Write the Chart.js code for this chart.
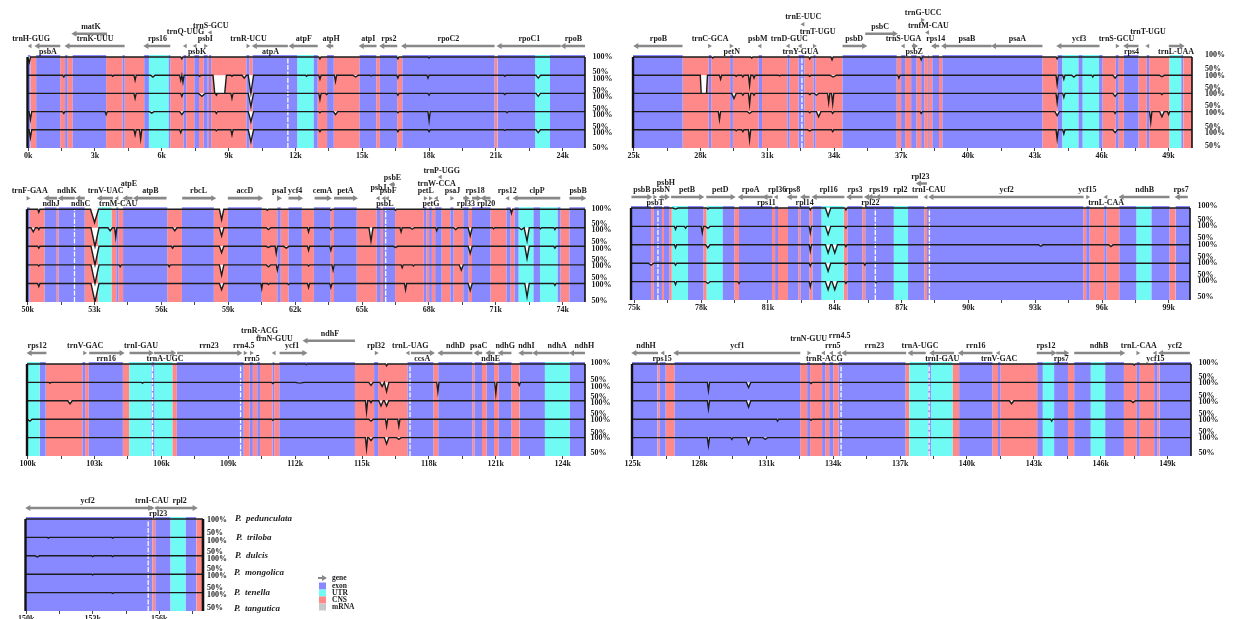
<!DOCTYPE html>
<html><head><meta charset="utf-8">
<script src="https://cdn.jsdelivr.net/npm/chart.js@4/dist/chart.umd.min.js"></script>
<style>
html,body{margin:0;padding:0;background:#fff;width:1234px;height:619px;overflow:hidden}
canvas{position:absolute;filter:blur(0.35px)}
</style></head><body>
<script>
// ---------- species, legend ----------
const speciesNames=['P. pedunculata','P. triloba','P. dulcis','P. mongolica','P. tenella','P. tangutica'];
const legendItems=['gene','exon','UTR','CNS','mRNA'];
const pctLabels=['100%','50%'];

// ---------- regions: [kind, end in kb], each starts where the previous ended ----------
const regions1=[['e',.1],['c',.36],['e',1.44],['c',1.66],['e',1.77],['c',2],['e',3.5],['c',4.24],['e',4.33],['c',5.21],['e',5.42],['u',6.31],['e',6.38],['c',6.98],['e',7.1],['c',7.46],['e',7.67],['c',7.88],['e',8.06],['c',8.12],['e',8.22],['c',9.8],['e',9.93],['c',10.08],['e',12.08],['u',12.82],['e',13],['c',13.42],['e',13.72],['c',14.88],['e',15.63],['c',15.79],['e',16.57],['c',16.8],['e',20.94],['c',21.08],['e',22.76],['u',23.43],['e',25]];
const regions2=[['e',27.2],['c',28.37],['e',28.48],['c',29.33],['e',29.45],['c',30.61],['e',30.76],['c',31.9],['e',32],['c',32.4],['e',32.66],['c',33.07],['e',33.16],['c',34.37],['e',36.8],['c',37],['e',37.18],['c',37.45],['e',37.69],['c',37.9],['e',38.04],['c',38.2],['e',38.24],['c',38.4],['e',38.7],['c',38.85],['e',43.34],['c',44.02],['e',44.23],['u',44.96],['e',45.14],['u',45.88],['e',46.04],['c',46.63],['e',46.76],['c',46.99],['e',47.65],['c',48.02],['e',48.13],['c',49.04],['u',49.57],['e',49.66],['c',50.05]];
const regions3=[['e',50.09],['c',50.76],['e',51.3],['c',51.39],['e',52.56],['c',53.16],['u',53.76],['c',53.98],['e',54.07],['c',54.28],['e',56.26],['c',56.92],['e',58.35],['c',58.98],['e',60.5],['c',61.2],['e',61.35],['c',61.7],['e',62.3],['c',62.84],['e',63.59],['c',63.74],['e',64.76],['c',65.66],['e',65.84],['c',65.94],['e',66.48],['c',67.77],['e',67.89],['c',68.01],['e',68.13],['c',68.28],['e',68.57],['c',68.96],['e',69.1],['c',69.54],['e',69.78],['c',69.93],['e',70.76],['c',71.48],['e',71.66],['c',71.84],['e',72.02],['u',72.69],['e',72.98],['u',73.77],['e',73.9],['c',74.3],['e',75]];
const regions4=[['e',75.75],['c',75.87],['e',76.24],['c',76.33],['e',76.57],['c',76.68],['u',77.41],['e',78.1],['c',78.25],['u',78.97],['e',79.49],['c',79.7],['e',81.18],['c',81.32],['e',81.45],['c',81.9],['e',82.37],['c',82.47],['e',82.86],['c',83],['e',83.4],['u',84.4],['c',84.57],['e',85.24],['c',85.37],['e',86.65],['u',87.29],['e',88.02],['c',88.14],['e',95.16],['c',95.29],['e',95.44],['c',96.1],['e',96.2],['c',96.78],['e',97.54],['u',98.22],['e',99.03],['c',99.31],['e',99.95]];
const regions5=[['u',100.54],['e',100.81],['c',102.46],['e',102.58],['c',102.74],['e',104.27],['c',104.56],['u',105.56],['e',105.68],['u',106.49],['c',106.69],['e',109.69],['c',109.96],['e',110.1],['c',110.3],['e',110.42],['c',110.99],['e',111.06],['c',111.29],['e',114.68],['c',115.54],['e',115.72],['c',117.04],['e',118.2],['c',118.42],['e',119.95],['c',120.05],['e',120.38],['c',120.59],['e',120.92],['c',121.13],['e',121.7],['c',122.07],['e',123.2],['u',124.32],['e',125]];
const regions6=[['e',126.11],['c',126.21],['e',126.48],['c',126.88],['e',132.52],['c',132.83],['e',132.96],['c',133.5],['e',133.64],['c',133.82],['e',134],['c',134.24],['e',137.24],['c',137.41],['u',138.26],['e',138.38],['u',139.35],['c',139.65],['e',141.14],['c',141.39],['e',141.5],['c',143.15],['e',143.4],['u',143.91],['e',144.53],['c',144.81],['e',145.55],['u',146.2],['e',147.04],['c',147.62],['e',147.75],['c',148.4],['e',148.54],['c',148.64],['e',150.05]];
const regions7=[['e',155.68],['c',155.82],['e',156.5],['u',157.19],['e',157.67],['c',157.97]];

// ---------- alignment gaps (white dashed columns), kb ----------
const gaps1=[11.66],gaps2=[32.55],gaps3=[52.1,66.06],gaps4=[76.06,85.82,88.25],gaps5=[105.6,109.55,117.15],gaps6=[134.35,138.3],gaps7=[155.5];

// ---------- conservation dips: per track [kb, % identity at minimum, half width, flat bottom] ----------
const dips1=[
 [[.05,85,.06],[6.9,95],[13.1,95],[16.6,95],[18,97]],
 [[1.6,95],[3.8,97],[4.8,86],[5.6,95,.1],[6.85,86],[6.95,81],[7.7,97],[8.6,50,.3,true],[9.15,97],[9.7,92,.1],[10,50,.12],[12.5,97],[13.1,89],[13.8,83],[14.7,95,.12],[15.4,98],[16.6,92],[17.95,92],[21.4,97],[22.9,92,.1]],
 [[4.8,86],[6.9,92],[7.8,92,.15],[8.45,95],[9.15,86],[10,64,.12],[13.1,83],[13.4,97],[16.6,95],[18,95],[21.4,97],[22.9,92,.1]],
 [[.1,78,.06],[1.6,95],[3.5,92],[5.55,96,.1],[6.9,92,.1],[8.45,95],[10,72,.12],[13.1,97],[13.8,92,.1],[16.6,97],[18,75],[21.5,97]],
 [[.1,78,.06],[4.8,86],[5.05,75],[6.85,92],[8.45,97],[9.15,86],[10,67,.12],[13.1,95],[16.6,95],[18,95],[21.4,98],[22.9,92,.1]]];
const dips2=[
 [[28.55,97],[30.3,97],[32.9,95],[33.9,92],[37.9,92],[44,95]],
 [[28.15,50,.16,true],[28.9,89],[29.6,97],[29.9,95],[30.2,72],[30.4,92],[31.55,98],[32.9,97],[33.95,95,.15],[36.9,92],[44,75],[44.3,89],[44.75,95,.1],[45.6,95],[46.6,92,.1],[48.7,96,.12]],
 [[29.5,86,.1],[29.9,95],[30.2,70],[30.4,95],[32.9,97],[33.2,95,.1],[33.75,75],[33.93,72],[44,75],[44.3,89],[46.6,92,.1],[48.7,97]],
 [[28.85,78],[30.2,95,.1],[32.9,97],[33.3,86,.1],[33.93,95],[37.9,95],[44,89,.1],[46.6,95],[48.2,72],[48.7,86,.1],[49,92]],
 [[29.6,97],[29.9,95],[30.2,72],[32.9,97,.1],[33.93,95],[44,75],[44.3,89],[46.6,92,.1]]];
const dips3=[
 [[50.5,92],[53,64,.18],[58.7,72,.1],[60.75,97],[63.6,97],[66.5,97],[71.7,89]],
 [[50.25,89,.1],[50.5,95],[53.02,50,.18],[53.7,92,.1],[53.95,75],[56.6,92,.1],[58.7,78,.1],[60.8,95,.1],[62.6,89],[63.6,95],[65.4,64,.09],[66.75,89],[67.25,96,.1],[68.35,92],[69.2,95,.1],[69.85,78,.09],[70.9,97],[72.15,95,.12],[72.4,64,.1],[73,97],[73.65,95]],
 [[50.5,95],[53.02,50,.18],[56.5,95],[58.7,83,.1],[60.8,97,.1],[61.15,81],[61.6,95,.12],[62.6,89],[63.6,89],[66.5,97,.1],[69.85,81,.09],[72.4,67,.1],[73.65,95]],
 [[50.5,97],[53.02,50,.18],[54.15,95],[56.35,95],[58.7,72,.1],[60.8,95,.1],[61.2,86],[62.6,97],[63.7,86],[66.8,92],[67.3,97],[69.45,86,.09]],
 [[50.5,92],[53.02,50,.18],[58.7,83,.1],[60.5,86,.04],[60.8,97],[61.7,97],[62.6,89],[63.6,89],[66.95,83],[69.85,81,.09],[72.4,64,.1],[73.65,95]]];
const dips4=[
 [[76.85,97,.12],[78.3,97],[82.9,95],[83.7,78,.12],[84.5,95]],
 [[76.85,92],[77.3,95],[78.05,83],[78.3,95,.1],[82.9,83],[83.7,78,.12],[84.5,95]],
 [[76.85,92],[78.3,92,.1],[82.9,83],[83.7,78,.12],[84,78,.12],[84.5,95],[93.25,96,.1],[96.4,95,.1]],
 [[75.75,95,.12],[76.85,95],[82.9,92],[83.7,78,.12],[84.5,97],[85.35,95]],
 [[76.85,92],[78.3,95,.1],[79.7,95],[82.9,86],[83.7,78,.12],[84,78,.12],[84.5,95],[85.85,97]]];
const dips5=[
 [[112.5,98],[116.1,95]],
 [[101,98],[105.15,98],[111,97],[112.2,98,.2],[115.4,92,.1],[115.9,89,.1],[116.1,75,.1],[118.4,75],[121,70],[122.05,92]],
 [[101.9,92,.1],[115.2,70],[115.4,95],[115.85,86,.1],[116.1,86,.1]],
 [[100.1,95,.1],[111,97],[115.4,95,.1],[116.1,81],[116.65,81]],
 [[115.2,70],[115.4,92,.1],[116.1,83,.1],[116.65,95,.1]]];
const dips6=[
 [[147.5,97]],
 [[128.4,78],[130.2,86,.1],[133,97]],
 [[128.4,78],[130.2,83,.1],[142,92,.1],[147.45,95,.1]],
 [[131.5,95],[133,97],[143.8,95]],
 [[128.4,78],[129.45,95],[130.2,83,.1],[130.95,95,.1]]];
const dips7=[
 [],
 [[151,98],[153.9,98]],
 [[150.5,97,.1],[153,98],[153.9,98]],
 [[153,98]],
 [[153.9,98]]];

// ---------- genes: [name, tail kb, tip kb, row code, label kb (optional)]; tail≈tip = short tRNA head ----------
const genes1=[['trnH-GUG',.1,.09,'a',.13],['psbA',1.44,.34,'b'],['matK',3.54,2,'c',2.82],['trnK-UUU',4.33,1.69,'a'],['rps16',6.38,5.23,'a'],['trnQ-UUG',7.07,7.06,'d'],['psbK',7.51,7.5,'b',7.58],['psbI',7.95,7.96,'a'],['trnS-GCU',8.19,8.18,'e',8.2],['trnR-UCU',9.85,9.86,'a',9.89],['atpA',11.66,10.1,'b'],['atpF',13,11.75,'a'],['atpH',13.7,13.42,'a',13.6],['atpI',15.64,14.9,'a'],['rps2',16.57,15.82,'a'],['rpoC2',20.94,16.8,'a'],['rpoC1',23.91,21.09,'a'],['rpoB',25,23.96,'a']];
const genes2=[['rpoB',27.19,25.04,'a'],['trnC-GCA',28.39,28.4,'a',28.43],['petN',29.36,29.37,'b',29.4],['psbM',30.68,30.67,'a',30.57],['trnD-GUC',31.95,31.94,'a',31.98],['trnY-GUA',32.49,32.48,'b'],['trnE-UUC',32.61,32.6,'f'],['trnT-UGU',33.09,33.1,'d',33.25],['psbD',34.37,35.42,'a'],['psbC',35.39,36.79,'c',36.06],['trnS-UGA',37.11,37.1,'a'],['psbZ',37.48,37.7,'b'],['trnG-UCC',37.94,37.95,'g',37.99],['trnfM-CAU',38.2,38.19,'e',38.22],['rps14',38.71,38.4,'a'],['psaB',41.06,38.85,'a'],['psaA',43.34,41.09,'a'],['ycf3',45.9,44.02,'a',44.99],['trnS-GCU',46.68,46.69,'a',46.66],['rps4',47.65,47.02,'b'],['trnT-UGU',48.08,48.07,'d'],['trnL-UAA',49.01,49.66,'b']];
const genes3=[['trnF-GAA',50,50.01,'a',50.09],['ndhJ',51.32,50.78,'b'],['ndhK',52.11,51.41,'a'],['ndhC',52.56,52.19,'b'],['trnV-UAC',53.83,53.16,'a'],['trnM-CAU',54.02,54.01,'b',54.06],['atpE',54.7,54.31,'d',54.54],['atpB',56.23,54.78,'a'],['rbcL',56.93,58.4,'a'],['accD',58.98,60.51,'a'],['psaI',61.2,61.35,'a',61.29],['ycf4',61.7,62.3,'a'],['cemA',62.87,63.59,'a'],['petA',63.74,64.76,'a'],['psbJ',65.74,65.73,'k'],['psbE',66.47,66.26,'e'],['psbF',66,65.99,'a',66.17],['psbL',66.15,66.14,'b',66.02],['petL',67.82,67.83,'a',67.86],['petG',68.05,68.06,'b',68.09],['trnW-CCA',68.35,68.34,'d'],['trnP-UGG',68.52,68.51,'h',68.57],['psaJ',69.01,69.02,'a',69.06],['rpl33',69.54,69.78,'b'],['rps18',69.93,70.31,'a',70.07],['rpl20',70.76,70.37,'b'],['rps12',71.55,71.54,'a',71.51],['clpP',73.89,71.81,'a'],['psbB',74.3,75,'a',74.69]];
const genes4=[['psbB',74.87,75.75,'a',75.34],['psbT',75.9,75.91,'b',75.94],['psbN',76.21,76.2,'a'],['psbH',76.24,76.54,'d',76.42],['petB',76.65,78.08,'a'],['petD',78.23,79.49,'a'],['rpoA',81.18,79.7,'a',80.22],['rps11',81.2,80.81,'b',80.93],['rpl36',81.39,81.38,'a',81.41],['rps8',82.31,81.9,'a'],['rpl14',82.87,82.5,'b',82.65],['rpl16',84.43,83.02,'a'],['rps3',85.25,84.57,'a'],['rps19',85.87,85.52,'a',85.97],['rpl22',85.82,85.37,'b',85.6],['rpl2',87.74,85.87,'a',86.95],['rpl23',88.14,87.7,'e',87.84],['trnI-CAU',88.11,88.1,'a',88.23],['ycf2',95.17,88.26,'a',91.72],['ycf15',95.34,95.35,'a'],['trnL-CAA',96.19,96.18,'b'],['ndhB',99.03,96.8,'a'],['rps7',99.85,99.32,'a',99.55]];
const genes5=[['rps12',100.84,100.01,'a'],['trnV-GAC',102.54,102.55,'a',102.58],['rrn16',102.76,104.29,'b'],['trnI-GAU',104.57,105.6,'a'],['trnA-UGC',105.67,106.61,'b',106.16],['rrn23',106.7,109.57,'a'],['rrn4.5',109.74,109.75,'a',109.69],['rrn5',110.02,110.03,'b',110.06],['trnR-ACG',110.35,110.36,'i',110.4],['trnN-GUU',111.07,111.06,'d'],['ycf1',111.3,112.49,'a',111.86],['ndhF',114.68,112.39,'c',113.56],['rpl32',115.62,115.63,'a'],['trnL-UAG',117.08,117.07,'a',117.16],['ccsA',117.19,118.21,'b'],['ndhD',119.95,118.44,'a'],['psaC',120.39,120.06,'a'],['ndhE',120.95,120.59,'b'],['ndhG',121.7,121.14,'a'],['ndhI',122.64,122.07,'a',122.37],['ndhA',124.3,122.69,'a',123.75],['ndhH',125,124.34,'a',124.97]];
const genes6=[['ndhH',126.14,125,'a',125.6],['rps15',126.37,126.36,'b',126.32],['ycf1',132.52,126.88,'a'],['trnN-GUU',132.89,132.9,'d'],['trnR-ACG',133.58,133.57,'b',133.6],['rrn4.5',134.29,134.28,'j'],['rrn5',133.94,133.93,'a',133.98],['rrn23',137.27,134.42,'a'],['trnA-UGC',138.15,137.39,'a',137.89],['trnI-GAU',139.42,138.36,'b',138.89],['rrn16',141.14,139.65,'a'],['trnV-GAC',141.42,141.41,'b',141.44],['rps12',143.13,143.96,'a'],['rps7',144,144.53,'b',144.23],['ndhB',144.81,147.04,'a'],['trnL-CAA',147.65,147.66,'a',147.71],['ycf15',148.46,148.45,'b'],['ycf2',150,148.63,'a',149.33]];
const genes7=[['ycf2',150.1,155.67,'a',152.77],['',155.6,150.02,'a'],['trnI-CAU',155.66,155.67,'a'],['rpl23',155.91,155.9,'b',155.95],['rpl2',155.82,157.67,'a',156.92]];

// ---------- layout (not data) ----------
const ROW={a:[-11,-18],b:[-11,-5],c:[-23.3,-30],d:[-11,-25],e:[-24.5,-31],f:[-32.7,-40],g:[-37,-44],h:[-32,-38],i:[-28,-33],j:[-11,-28],k:[-11,-21]};
const panels=[
 {reg:regions1,gap:gaps1,dip:dips1,gen:genes1,start:0,xmin:-.03,xmax:25,L:27.5,R:585,T:57,B:148,pad:7.5,off:[0,15,22,34,40,52,58,70,76,91]},
 {reg:regions2,gap:gaps2,dip:dips2,gen:genes2,start:25,xmin:24.97,xmax:50.05,L:633,R:1192,T:57,B:148,pad:13,off:[-2,12,18.7,30.7,37,49,55.7,69.7,76.3,89]},
 {reg:regions3,gap:gaps3,dip:dips3,gen:genes3,start:50,xmin:49.97,xmax:75,L:27,R:585,T:208.5,B:301,pad:6.5,off:[-.6,15,20.7,32.7,39.3,50.7,56.7,69,75,91.7]},
 {reg:regions4,gap:gaps4,dip:dips4,gen:genes4,start:75,xmin:74.85,xmax:99.95,L:630.5,R:1189,T:208,B:300,pad:7.5,off:[-2,12,18,30.3,37,48.7,55,67,73.3,89.3]},
 {reg:regions5,gap:gaps5,dip:dips5,gen:genes5,start:100,xmin:99.97,xmax:125,L:27,R:585,T:364,B:456,pad:5.5,off:[-1,16,22.7,32.7,38.7,50,56,68.7,74.3,89.3]},
 {reg:regions6,gap:gaps6,dip:dips6,gen:genes6,start:125,xmin:124.97,xmax:150.05,L:632,R:1190.5,T:364,B:456,pad:7.5,off:[-1,13,19,32,38,50,56,68,74,89]},
 {reg:regions7,gap:gaps7,dip:dips7,gen:genes7,start:150,xmin:149.97,xmax:157.97,L:25.5,R:203,T:519,B:611,pad:4,off:[1,14.3,21.7,32.7,40,50,57,69.3,76.3,88.7],extra:true}
];
const COL={e:'#8888ff',u:'#6ffaf4',c:'#ff8888'},INK='#1c1c1c',GENE='#888888';
const FONT='"Liberation Serif",serif';
const SPECIES_POS=[[235,519],[236,537.7],[235,556],[234,573],[234,593],[234,609]];
const LEGEND_POS=[[319,578],[319,586],[319,593],[319,600],[319,607]];
const LEGEND_COL=[GENE,'#8888ff','#6ffaf4','#ff8888','#c8c8c8'];

function regionLine(p,kind){
  const pts=[];let s=p.xmin;
  const top=kind==='c'?250:255.5;
  p.reg.forEach(([k,e])=>{
    if(k===kind){pts.push({x:s,y:0},{x:s,y:top},{x:e,y:top},{x:e,y:0});}
    s=e;
  });
  return pts;
}
function curve(p,t){
  const base=(4-t)*50,top=base+50,pts=[{x:p.xmin,y:top}];
  p.dip[t].forEach(([x,v,hw=.05,flat])=>{
    const y=base+(v-50);
    pts.push({x:x-hw,y:top});
    if(flat){pts.push({x:x-hw*.75,y},{x:x+hw*.75,y});}
    else pts.push({x,y});
    pts.push({x:x+hw,y:top});
  });
  pts.push({x:p.xmax,y:top});
  return pts;
}
function noPadding(s){s.paddingTop=0;s.paddingBottom=0;s.paddingLeft=0;s.paddingRight=0;}
panels.forEach(p=>{
  const H=p.B-p.T,u=250/H; // data units per pixel
  const padL=p.L<60?p.L:60, rowsAbove=Math.min(p.T,60), margin=8;
  const axisW=p.extra?170:48, botH=22;
  const c=document.createElement('canvas');
  const left=p.L-padL, top=p.T-rowsAbove-margin;
  const cW=Math.ceil(padL+(p.R-p.L)+axisW), cH=Math.ceil(margin+rowsAbove+H+botH);
  c.width=cW;c.height=cH;
  c.style.left=left+'px';c.style.top=top+'px';
  c.style.width=cW+'px';c.style.height=cH+'px';
  document.body.appendChild(c);

  const ds=[];
  const base={type:'line',pointRadius:0,borderWidth:0,tension:0};
  ['e','u','c'].forEach(k=>ds.push({...base,data:regionLine(p,k),fill:'origin',backgroundColor:COL[k],borderColor:COL[k],order:10}));
  p.gap.forEach(g=>ds.push({...base,data:[{x:g,y:0},{x:g,y:250}],borderColor:'#ffffff',borderWidth:1.3,borderDash:[5,1.5],order:6}));
  for(let t=0;t<5;t++) ds.push({...base,data:curve(p,t),fill:{value:(4-t)*50+50},backgroundColor:'#ffffff',borderColor:INK,borderWidth:1.4,order:4});
  ds.push({...base,clip:false,data:[{x:p.xmin,y:0},{x:p.xmin,y:250}],borderColor:'#111',borderWidth:2.4,order:3});
  ds.push({...base,clip:false,data:[{x:p.xmax,y:0},{x:p.xmax,y:250}],borderColor:'#111',borderWidth:p.extra?2.6:1.6,order:3});
  // genes
  const shafts=[],heads=[],rot=[],rad=[];
  p.gen.forEach(([n,a,b,row])=>{
    const y=250-ROW[row][0]*u;
    const dir=b>=a?1:-1, len=Math.abs(b-a);
    if(len<.05){heads.push({x:b,y});rot.push(dir*90);rad.push(2.6);return;}
    shafts.push({x:a,y},{x:b-dir*.08,y},{x:null,y:null});
    heads.push({x:b-dir*.09,y});rot.push(dir*90);rad.push(3.4);
  });
  ds.push({...base,clip:false,data:shafts,borderColor:GENE,borderWidth:2.6,order:2,spanGaps:false});
  ds.push({...base,clip:false,data:heads,showLine:false,pointStyle:'triangle',pointRadius:rad,pointBackgroundColor:GENE,pointBorderColor:GENE,pointBorderWidth:0,pointRotation:rot,order:1});

  const xt=[];for(let v=p.start;v<=p.xmax+.001;v+=1.5) xt.push(v);
  const yt=p.off.map(o=>250-o*u);

  const labelPlugin={id:'geneLabels',afterDraw(ch){
    const ctx=ch.ctx,X=ch.scales.x,Y=ch.scales.y,y0=Y.getPixelForValue(250);
    ctx.save();ctx.fillStyle=INK;ctx.textBaseline='middle';ctx.textAlign='center';
    ctx.font='bold 8px '+FONT;
    p.gen.forEach(([n,a,b,row,lx])=>{
      if(!n)return;
      const at=lx!==undefined?lx:(a+b)/2;
      ctx.fillText(n,X.getPixelForValue(at),y0+ROW[row][1]);
    });
    if(p.extra){
      const ox=left,oy=top;
      ctx.textAlign='left';
      ctx.font='italic bold 9px '+FONT;
      speciesNames.forEach((s,i)=>{
        const [sx,sy]=SPECIES_POS[i];
        const parts=s.split(' ');
        ctx.fillText(parts[0],sx-ox,sy-oy);
        ctx.fillText(parts[1],sx-ox+11,sy-oy);
      });
      ctx.font='bold 7.5px '+FONT;
      legendItems.forEach((s,i)=>{
        const [lxx,lyy]=LEGEND_POS[i];
        ctx.fillStyle=LEGEND_COL[i];
        if(i===0){
          ctx.fillRect(lxx-ox-1,lyy-oy-1,6,2);
          ctx.beginPath();ctx.moveTo(lxx+3-ox,lyy-oy-3);ctx.lineTo(lxx+8-ox,lyy-oy);ctx.lineTo(lxx+3-ox,lyy-oy+3);ctx.fill();
        } else ctx.fillRect(lxx-ox,lyy-oy-3.5,7,7);
        ctx.fillStyle=INK;
        ctx.fillText(s,lxx-ox+13,lyy-oy);
      });
    }
    ctx.restore();
  }};

  new Chart(c,{
    data:{datasets:ds},
    options:{
      responsive:false,animation:false,devicePixelRatio:1,
      layout:{padding:{left:padL,top:margin,right:0,bottom:0}},
      plugins:{legend:{display:false},tooltip:{enabled:false}},
      events:[],
      scales:{
        x:{type:'linear',min:p.xmin,max:p.xmax,
          border:{display:false},
          grid:{drawOnChartArea:false,drawTicks:true,tickLength:3,color:'#444',lineWidth:1},
          afterBuildTicks(s){s.ticks=xt.map(v=>({value:v}));},
          afterFit(s){s.height=botH;noPadding(s);},
          ticks:{autoSkip:false,maxRotation:0,minRotation:0,padding:0,color:INK,font:{family:FONT,size:8,weight:'bold'},
            callback(v,i){return i%2===0?v+'k':'';}}
        },
        y:{type:'linear',position:'right',min:0,max:250+rowsAbove*u,
          border:{display:false},
          grid:{display:false,drawTicks:false},
          afterBuildTicks(s){s.ticks=yt.map(v=>({value:v}));},
          afterFit(s){s.width=axisW;noPadding(s);},
          ticks:{autoSkip:false,padding:p.pad,color:INK,font:{family:FONT,size:8,weight:'bold'},
            callback(v,i){return pctLabels[i%2];}}
        }
      }
    },
    plugins:[labelPlugin]
  });
});
</script>
</body></html>
